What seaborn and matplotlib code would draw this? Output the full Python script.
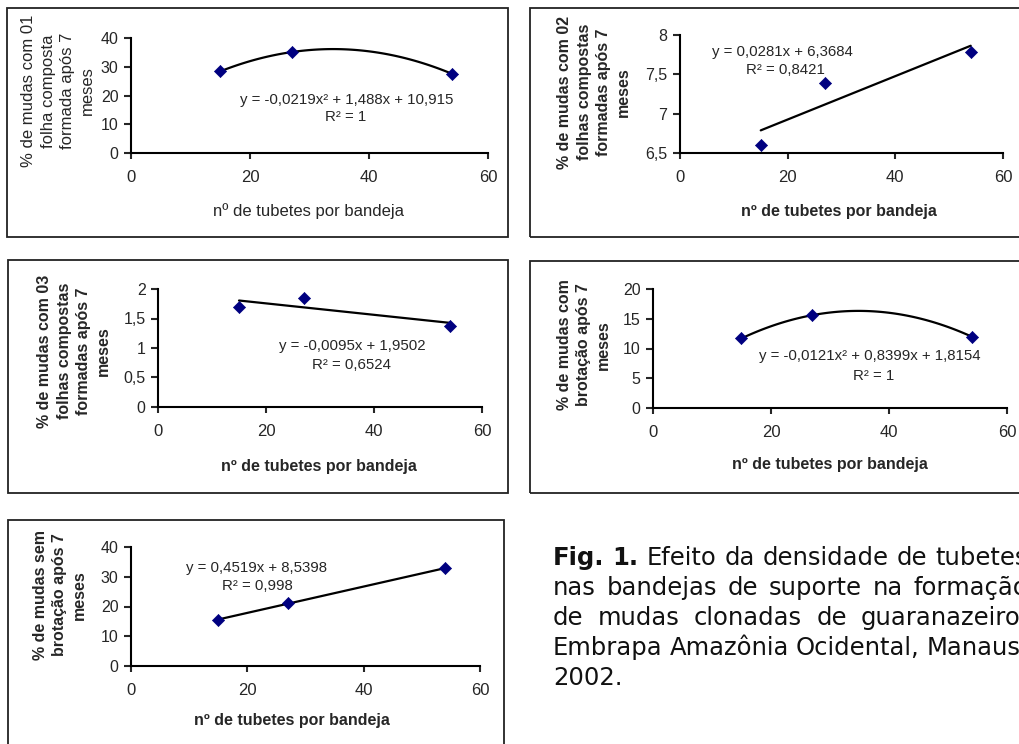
import numpy as np
import matplotlib
matplotlib.use("Agg")
import matplotlib.pyplot as plt
from matplotlib.patches import Rectangle
from matplotlib.ticker import FuncFormatter
import seaborn as sns

# data
tubetes = [15, 27, 54]
folha01 = [28.4, 35.1, 27.5]
folhas02 = [6.60, 7.39, 7.78]
folhas03 = [1.70, 1.84, 1.38]
brotacao = [11.7, 15.6, 12.0]
sem_brotacao = [15.4, 21.3, 32.8]

x_ticks = [0, 20, 40, 60]
xlabel = "nº de tubetes por bandeja"

W, H = 1020, 744

sns.set_style("ticks")
plt.rcParams["font.family"] = ["Liberation Sans", "DejaVu Sans"]

fig = plt.figure(figsize=(W / 100, H / 100), dpi=100)


def fx(px):
    return px / W


def fy(py):
    return 1 - py / H


def comma(v, pos):
    s = f"{v:g}"
    return s.replace(".", ",")


# panel settings: axes box in pixels (left, top, right, bottom)
panels = [
    dict(y=folha01, order=2, box=(131, 38, 488, 153), ylim=(0, 40), yticks=[0, 10, 20, 30, 40],
         ylabel="% de mudas com 01\nfolha composta\nformada após 7\nmeses", bold=False,
         ylab_xy=(58, 91), xlab_xy=(309, 211),
         eq=["y = -0,0219x² + 1,488x + 10,915", "R² = 1"], eq_xy=[(347, 100), (346, 117)],
         frame=(7, 8, 508, 237)),
    dict(y=folhas02, order=1, box=(680, 35, 1003, 153), ylim=(6.5, 8), yticks=[6.5, 7, 7.5, 8],
         ylabel="% de mudas com 02\nfolhas compostas\nformadas após 7\nmeses", bold=True,
         ylab_xy=(594, 92), xlab_xy=(839, 211),
         eq=["y = 0,0281x + 6,3684", "R² = 0,8421"], eq_xy=[(782, 52), (785, 70)],
         frame=(530, 8, 1030, 237)),
    dict(y=folhas03, order=1, box=(158, 289, 482, 407), ylim=(0, 2), yticks=[0, 0.5, 1, 1.5, 2],
         ylabel="% de mudas com 03\nfolhas compostas\nformadas após 7\nmeses", bold=True,
         ylab_xy=(74, 351), xlab_xy=(319, 466),
         eq=["y = -0,0095x + 1,9502", "R² = 0,6524"], eq_xy=[(352, 346), (352, 365)],
         frame=(8, 260, 508, 493)),
    dict(y=brotacao, order=2, box=(653, 289, 1007, 408), ylim=(0, 20), yticks=[0, 5, 10, 15, 20],
         ylabel="% de mudas com\nbrotação após 7\nmeses", bold=True,
         ylab_xy=(584, 345), xlab_xy=(830, 464),
         eq=["y = -0,0121x² + 0,8399x + 1,8154", "R² = 1"], eq_xy=[(870, 356), (874, 376)],
         frame=(530, 261, 1030, 493)),
    dict(y=sem_brotacao, order=1, box=(131, 547, 480, 666), ylim=(0, 40), yticks=[0, 10, 20, 30, 40],
         ylabel="% de mudas sem\nbrotação após 7\nmeses", bold=True,
         ylab_xy=(60, 595), xlab_xy=(292, 721),
         eq=["y = 0,4519x + 8,5398", "R² = 0,998"], eq_xy=[(257, 568), (257, 586)],
         frame=(8, 520, 504, 760)),
]

for p in panels:
    l, t, r, b = p["box"]
    ax = fig.add_axes([fx(l), fy(b), fx(r - l), (b - t) / H])
    sns.regplot(x=tubetes, y=p["y"], order=p["order"], ci=None, scatter=False, truncate=True,
                ax=ax, line_kws=dict(color="black", lw=1.6))
    sns.scatterplot(x=tubetes, y=p["y"], marker="D", color="#000080", s=38,
                    edgecolor="#000080", ax=ax, zorder=3, legend=False)
    ax.set_xlim(0, 60)
    ax.set_ylim(*p["ylim"])
    ax.set_xticks(x_ticks)
    ax.set_yticks(p["yticks"])
    ax.yaxis.set_major_formatter(FuncFormatter(comma))
    ax.set_xlabel("")
    ax.set_ylabel("")
    sns.despine(ax=ax)
    for s in ["left", "bottom"]:
        ax.spines[s].set_linewidth(1.5)
        ax.spines[s].set_color("black")
    ax.tick_params(axis="x", direction="out", length=4, width=1.5, labelsize=12, pad=8)
    ax.tick_params(axis="y", direction="out", length=5, width=1.5, labelsize=11.5, pad=4)
    ax.set_facecolor("none")

    weight = "bold" if p["bold"] else "normal"
    size = 11.5 if p["bold"] else 12
    fig.text(fx(p["ylab_xy"][0]), fy(p["ylab_xy"][1]), p["ylabel"], rotation=90,
             ha="center", va="center", ma="center", fontsize=size, weight=weight, linespacing=1.4)
    fig.text(fx(p["xlab_xy"][0]), fy(p["xlab_xy"][1]), xlabel, ha="center", va="center",
             fontsize=size, weight=weight)
    for line, (ex, ey) in zip(p["eq"], p["eq_xy"]):
        fig.text(fx(ex), fy(ey), line, ha="center", va="center", fontsize=10.8)

    x0, y0, x1, y1 = p["frame"]
    fig.patches.append(Rectangle((fx(x0), fy(y1)), fx(x1 - x0), (y1 - y0) / H,
                                 transform=fig.transFigure, fill=False, lw=1.3,
                                 ec="#222222", zorder=0))

# caption, justified like the original text block
caption_lines = [
    [("Fig.", "bold"), ("1.", "bold"), ("Efeito", "normal"), ("da", "normal"),
     ("densidade", "normal"), ("de", "normal"), ("tubetes", "normal")],
    [(w, "normal") for w in "nas bandejas de suporte na formação".split()],
    [(w, "normal") for w in "de mudas clonadas de guaranazeiro.".split()],
    [(w, "normal") for w in "Embrapa Amazônia Ocidental, Manaus,".split()],
]
cap_x0, cap_x1 = 553, 1028
cap_base = [565, 595, 625, 655]
renderer = fig.canvas.get_renderer()
for words, base in zip(caption_lines, cap_base):
    texts = [fig.text(0, fy(base), w, fontsize=17.5, weight=wt, va="baseline",
                      family="DejaVu Sans", color="#111111") for w, wt in words]
    widths = [t.get_window_extent(renderer).width for t in texts]
    gap = (cap_x1 - cap_x0 - sum(widths)) / (len(words) - 1)
    xpos = cap_x0
    for t, w in zip(texts, widths):
        t.set_x(fx(xpos))
        xpos += w + gap
fig.text(fx(cap_x0), fy(685), "2002.", fontsize=17.5, va="baseline", family="DejaVu Sans",
         color="#111111")

fig.savefig("out.png", dpi=100)
